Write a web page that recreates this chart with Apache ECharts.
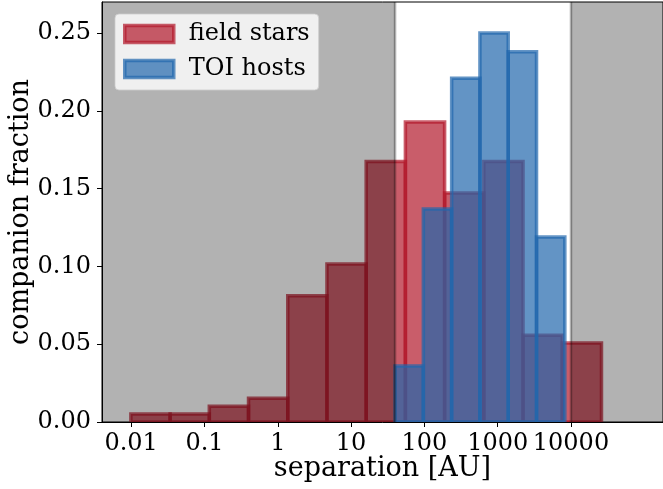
<!DOCTYPE html>
<html>
<head>
<meta charset="utf-8">
<script src="https://cdn.jsdelivr.net/npm/echarts@6/dist/echarts.min.js"></script>
<style>
  html, body { margin: 0; padding: 0; background: #fff; }
  #chart { width: 663px; height: 489px; }
</style>
</head>
<body>
<div id="chart"></div>
<script>
// Separation histograms (bin edges in AU, fraction of companions per bin)
const fieldEdges = [0.00991, 0.03396, 0.1164, 0.399, 1.368, 4.688, 16.07, 55.08, 188.8, 647.1, 2218, 7603, 26062];
const fieldFraction = [0.0051, 0.0051, 0.0102, 0.0152, 0.0812, 0.1015, 0.1675, 0.1929, 0.1472, 0.1675, 0.0558, 0.0508];

const toiEdges = [39.8, 96.8, 235.5, 572.8, 1393, 3388, 8241];
const toiFraction = [0.036, 0.137, 0.221, 0.250, 0.238, 0.119];

// Axis extents (AU) and the sensitive window left unshaded
const xLimits = [0.004, 180000];
const windowLimits = [39.8, 10000];

const tickValues = [0.01, 0.1, 1, 10, 100, 1000, 10000];
const tickLabels = ['0.01', '0.1', '1', '10', '100', '1000', '10000'];
const yTicks = [0, 0.05, 0.10, 0.15, 0.20, 0.25];

const FONT = 'DejaVu Serif';
const RED = '178,24,43';
const BLUE = '33,102,172';
const lg = Math.log10;

function binsToData(edges, values) {
  return values.map((v, i) => [lg(edges[i]), lg(edges[i + 1]), v]);
}

function barRenderer(rgb) {
  return function (params, api) {
    const top = api.coord([api.value(0), api.value(2)]);
    const bottom = api.coord([api.value(1), 0]);
    return {
      type: 'rect',
      shape: { x: top[0], y: top[1], width: bottom[0] - top[0], height: bottom[1] - top[1] },
      style: { fill: 'rgba(' + rgb + ',0.7)', stroke: 'rgba(' + rgb + ',0.7)', lineWidth: 3.5 }
    };
  };
}

// Shaded regions outside the window, with an edge line on the inner side
function shadeRenderer(params, api) {
  const cs = params.coordSys;
  const a = api.coord([api.value(0), 0])[0];
  const b = api.coord([api.value(1), 0])[0];
  const x0 = Math.max(cs.x, Math.min(a, b));
  const x1 = Math.min(cs.x + cs.width, Math.max(a, b));
  const edgeX = api.value(2) === 0 ? x1 : x0;
  return {
    type: 'group',
    children: [
      { type: 'rect', shape: { x: x0, y: cs.y, width: x1 - x0, height: cs.height },
        style: { fill: 'rgba(0,0,0,0.3)' } },
      { type: 'line', shape: { x1: edgeX, y1: cs.y, x2: edgeX, y2: cs.y + cs.height },
        style: { stroke: 'rgba(0,0,0,0.3)', lineWidth: 2.5 } }
    ]
  };
}

const chart = echarts.init(document.getElementById('chart'), null, { renderer: 'canvas' });

chart.setOption({
  animation: false,
  backgroundColor: '#fff',
  grid: {
    left: 102, right: 0, top: 2, bottom: 67,
    outerBoundsMode: 'none',
    containLabel: false,
    show: true, borderColor: '#000', borderWidth: 1, backgroundColor: '#fff'
  },
  xAxis: {
    type: 'value',
    min: lg(xLimits[0]),
    max: lg(xLimits[1]),
    name: 'separation [AU]',
    nameLocation: 'middle',
    nameGap: 33,
    nameMoveOverlap: false,
    nameTextStyle: { fontFamily: FONT, fontSize: 27, color: '#000' },
    splitLine: { show: false },
    axisLine: { onZero: false, lineStyle: { color: '#000', width: 1 } },
    axisTick: { show: true, length: 5, customValues: tickValues.map(lg), lineStyle: { color: '#000' } },
    axisLabel: {
      customValues: tickValues.map(lg),
      margin: 10,
      fontFamily: FONT, fontSize: 24, color: '#000',
      formatter: function (v) {
        let best = 0;
        tickValues.forEach((t, i) => { if (Math.abs(lg(t) - v) < Math.abs(lg(tickValues[best]) - v)) best = i; });
        return tickLabels[best];
      }
    }
  },
  yAxis: {
    type: 'value',
    min: 0,
    max: 0.27,
    name: 'companion fraction',
    nameLocation: 'middle',
    nameGap: 68,
    nameMoveOverlap: false,
    nameTextStyle: { fontFamily: FONT, fontSize: 27, color: '#000' },
    splitLine: { show: false },
    axisLine: { show: true, onZero: false, lineStyle: { color: '#000', width: 1 } },
    axisTick: { show: true, length: 5, customValues: yTicks, lineStyle: { color: '#000' } },
    axisLabel: {
      customValues: yTicks,
      margin: 11,
      fontFamily: FONT, fontSize: 24, color: '#000',
      formatter: v => v.toFixed(2)
    }
  },
  legend: {
    orient: 'vertical',
    left: 115,
    top: 14,
    z: 10,
    padding: [8, 9, 9, 8],
    itemWidth: 49,
    itemHeight: 17,
    itemGap: 11,
    icon: 'rect',
    selectedMode: false,
    backgroundColor: 'rgba(255,255,255,0.8)',
    borderColor: 'rgba(204,204,204,0.8)',
    borderWidth: 1,
    borderRadius: 4,
    textStyle: { fontFamily: FONT, fontSize: 24, color: '#000', padding: [0, 0, 0, 10] },
    data: [
      { name: 'field stars', itemStyle: { color: 'rgba(' + RED + ',0.7)', borderColor: 'rgba(' + RED + ',0.7)', borderWidth: 3.5 } },
      { name: 'TOI hosts', itemStyle: { color: 'rgba(' + BLUE + ',0.7)', borderColor: 'rgba(' + BLUE + ',0.7)', borderWidth: 3.5 } }
    ]
  },
  series: [
    {
      name: 'field stars',
      type: 'custom',
      silent: true,
      clip: true,
      z: 2,
      itemStyle: { color: 'rgba(' + RED + ',0.7)' },
      encode: { x: [0, 1], y: 2 },
      data: binsToData(fieldEdges, fieldFraction),
      renderItem: barRenderer(RED)
    },
    {
      name: 'TOI hosts',
      type: 'custom',
      silent: true,
      clip: true,
      z: 2,
      itemStyle: { color: 'rgba(' + BLUE + ',0.7)' },
      encode: { x: [0, 1], y: 2 },
      data: binsToData(toiEdges, toiFraction),
      renderItem: barRenderer(BLUE)
    },
    {
      name: 'shade',
      type: 'custom',
      silent: true,
      clip: true,
      z: 3,
      encode: { x: [0, 1] },
      data: [
        [lg(xLimits[0]), lg(windowLimits[0]), 0],
        [lg(windowLimits[1]), lg(xLimits[1]), 1]
      ],
      renderItem: shadeRenderer
    }
  ]
});
</script>
</body>
</html>
